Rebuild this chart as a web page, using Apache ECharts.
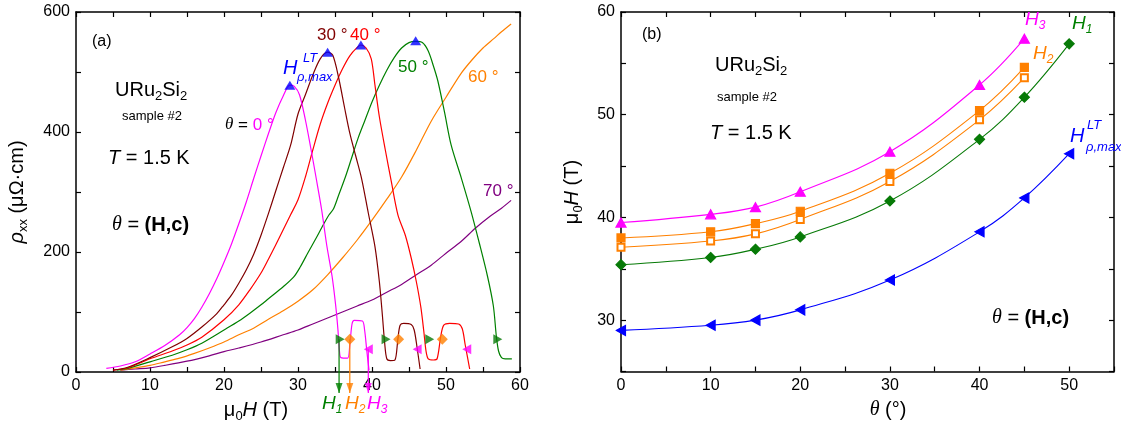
<!DOCTYPE html>
<html lang="en">
<head>
  <meta charset="UTF-8">
  <title>URu2Si2 rho_xx and transition fields</title>
  <script src="https://cdn.jsdelivr.net/npm/echarts@6/dist/echarts.min.js"></script>
  <style>
    * { margin: 0; padding: 0; }
    body { background: #fff; }
    #main { width: 1121px; height: 430px; }
  </style>
</head>
<body>
  <div id="main"></div>
  <script>
    // ---- panel (a): rho_xx vs mu0H, [field (T), rho (uOhm.cm)] per angle ----
    var rho0 = [[4.1,6],[6,10],[8,17],[10,30],[12,44],[14,62],[15,74],[16,89],[17,108],[18,130],[19,155],[20,183],[21,213],[22,247],[23,283],[24,322],[25,360],[26,397],[27,432],[28,460],[28.9,478],[29.5,476],[30.2,462],[31,420],[31.7,375],[32.5,320],[33.2,270],[33.9,210],[34.6,160],[35.1,110],[35.4,70],[35.6,35],[35.8,24],[36.7,23],[37.0,45],[37.3,80],[37.6,86],[38.7,85],[39.0,70],[39.3,35],[39.6,3]];
    var rho30 = [[5,3],[7,8],[10,24],[13,42],[15,56],[17,75],[19,97],[20,112],[21,128],[22,148],[23,170],[24,196],[25,228],[26,264],[27,302],[28,340],[29,378],[30,430],[31,462],[32,495],[33,522],[34,533],[34.7,528],[35.5,490],[36.3,440],[37.0,398],[37.8,360],[38.6,322],[39.5,265],[40.4,209],[41.0,150],[41.4,95],[41.7,50],[42.0,22],[42.5,19],[43.1,20],[43.5,55],[43.8,78],[44.3,81],[45.3,79],[45.7,70],[46.1,40],[46.5,5]];
    var rho40 = [[5,3],[7,7],[10,22],[13,35],[15,45],[17,58],[20,87],[22,112],[23.5,137],[25,165],[26,188],[27,212],[28,237],[29,262],[30,287],[31,325],[32,370],[33,413],[34,448],[35,478],[36,505],[37,527],[38,541],[38.5,545],[39.2,540],[39.9,522],[40.4,478],[41.0,425],[41.8,370],[42.6,318],[43.5,262],[44.5,228],[45.3,190],[46.0,150],[46.6,108],[47.0,68],[47.3,35],[47.6,22],[48.3,20],[48.8,22],[49.3,60],[49.7,78],[50.5,81],[51.7,80],[52.2,72],[52.6,45],[53.2,5]];
    var rho50 = [[5.5,3],[7,6],[10,17],[13,28],[15,37],[17,48],[20,70],[22,85],[23.5,98],[25,112],[26,122],[28,142],[29.4,158],[30.3,175],[31.4,200],[32.4,222],[33.4,245],[34.2,262],[34.8,272],[35.5,295],[36.4,325],[37.2,355],[38.1,389],[39,418],[40,450],[41,478],[42,503],[43,524],[44,540],[45,549],[45.9,551],[46.8,549],[47.6,535],[48.3,510],[48.9,485],[49.8,433],[50.7,378],[52.1,322],[53.4,267],[54.5,215],[55.6,160],[56.4,110],[56.8,60],[57.1,35],[57.5,24],[58.0,22],[58.9,22]];
    var rho60 = [[6,3],[8,7],[10,11],[12,17],[14,23],[16,31],[18,40],[20,50],[22,62],[24,73],[26,88],[28,102],[30,118],[32,137],[34,162],[36,190],[38,220],[40,253],[42,288],[44,325],[46,370],[48,418],[50,458],[52,497],[53.5,520],[55,540],[56.5,556],[57.5,567],[58.8,580]];
    var rho70 = [[6,3],[8,5],[10,7],[12,11],[15,18],[18,27],[20,34],[22,40],[25,50],[28,62],[30,70],[32,80],[34,90],[36,100],[38,110],[40,120],[42,133],[44,146],[46,162],[48,178],[50,198],[52,217],[54,240],[56,260],[57.5,273],[58.8,286]];

    // resistivity maxima (blue triangles)
    var peakField = [28.9, 34.0, 38.5, 45.9];
    var peakRho = [478, 533, 545, 552];
    // H1 / H2 / H3 marks on the steps
    var h1Field = [35.7, 41.9, 47.8, 57.0];
    var h2Field = [37.0, 43.6, 49.5];
    var h3Field = [39.5, 46.1, 52.8];
    var h12Rho = 54.5;
    var h3Rho = 38;
    // arrows below the axis for theta = 0
    var arrowField = [35.55, 37.0, 39.5];
    var arrowFrom = [54.5, 54.5, 38];
    var arrowTip = -35;

    // ---- panel (b): fields vs theta ----
    var theta = [0, 10, 15, 20, 30, 40, 45, 50];
    var h3 = [39.5, 40.3, 41.0, 42.5, 46.4, 52.9, 57.4];
    var h2Full = [38.0, 38.6, 39.4, 40.6, 44.3, 50.4, 54.6];
    var h2Open = [37.1, 37.7, 38.4, 39.8, 43.5, 49.5, 53.6];
    var h1 = [35.4, 36.1, 36.9, 38.1, 41.6, 47.6, 51.7, 56.9];
    var hMax = [29.0, 29.5, 30.0, 31.0, 33.9, 38.6, 41.9, 46.2];

    var FONT = 'Liberation Sans';
    var SERIF = 'Liberation Serif';
    var MAGENTA = '#ff00ff', BROWN = '#800000', RED = '#ff0000', GREEN = '#008000',
        ORANGE = '#ff8000', PURPLE = '#800080', BLUE = '#0000ff', DKGREEN = '#077a07';

    function pairs(xs, ys) {
      return ys.map(function (y, i) { return [xs[i], y]; });
    }

    // rich text styles: n normal, i italic, g greek italic, b bold, s/si subscript
    function rich(size, color) {
      var lh = Math.round(size * 1.25);
      var ss = Math.round(size * 0.65);
      function st(o) {
        return Object.assign({ fontFamily: FONT, fontSize: size, lineHeight: lh, fill: color, color: color, verticalAlign: 'middle' }, o);
      }
      return {
        n: st({}),
        i: st({ fontStyle: 'italic' }),
        g: st({ fontStyle: 'italic', fontFamily: SERIF }),
        b: st({ fontWeight: 'bold' }),
        s: st({ fontSize: ss, lineHeight: ss, verticalAlign: 'bottom' }),
        si: st({ fontSize: ss, lineHeight: ss, verticalAlign: 'bottom', fontStyle: 'italic' }),
        p: st({ fill: MAGENTA, color: MAGENTA })
      };
    }

    function txt(x, y, text, size, color, align, rot) {
      return {
        type: 'text', x: x, y: y, rotation: rot || 0, silent: true, z: 100,
        style: {
          text: text, rich: rich(size, color), fill: color,
          font: size + 'px "' + FONT + '"',
          textAlign: align || 'left', textVerticalAlign: 'middle'
        }
      };
    }

    function axis(grid, pos, min, max, step, labelStep, showLabel) {
      return {
        type: 'value', gridIndex: grid, position: pos, min: min, max: max, interval: step,
        axisLine: { show: true, onZero: false, lineStyle: { color: '#000', width: 1.5 } },
        axisTick: { show: true, inside: true, length: 5, lineStyle: { color: '#000', width: 1.2 } },
        splitLine: { show: false },
        axisLabel: {
          show: showLabel, color: '#000', fontFamily: FONT, fontSize: 16, margin: 6,
          formatter: function (v) { return v % labelStep === 0 ? String(v) : ''; }
        }
      };
    }

    function curve(data, color) {
      return {
        type: 'line', xAxisIndex: 0, yAxisIndex: 0, data: data, symbol: 'none',
        smooth: 0.3, lineStyle: { color: color, width: 1.2 }, silent: true, z: 2
      };
    }

    function marks(data, symbol, size, color, rotate) {
      return {
        type: 'scatter', xAxisIndex: 0, yAxisIndex: 0, data: data, symbol: symbol,
        symbolSize: size, symbolRotate: rotate || 0, clip: false,
        itemStyle: { color: color }, silent: true, z: 5
      };
    }

    function fit(ys, color, symbol, size, rotate) {
      return {
        type: 'line', xAxisIndex: 2, yAxisIndex: 2, data: pairs(theta, ys),
        smooth: 0.4, symbol: symbol, symbolSize: size, symbolRotate: rotate || 0,
        showSymbol: true, lineStyle: { color: color, width: 1.1 },
        itemStyle: { color: color, borderColor: color, borderWidth: 1.2 }, silent: true, z: 3
      };
    }

    var series = [
      curve(rho70, PURPLE),
      curve(rho60, ORANGE),
      curve(rho50, GREEN),
      curve(rho40, RED),
      curve(rho30, BROWN),
      curve(rho0, MAGENTA)
    ];

    // arrows from the theta = 0 marks down below the axis
    var arrowColors = [GREEN, ORANGE, MAGENTA];
    arrowField.forEach(function (x, i) {
      series.push({
        type: 'line', xAxisIndex: 0, yAxisIndex: 0, symbol: 'none', clip: false, silent: true, z: 4,
        data: [[x, arrowFrom[i]], [x, arrowTip]],
        lineStyle: { color: arrowColors[i], width: 1.2 }
      });
    });
    series.push({
      type: 'scatter', xAxisIndex: 0, yAxisIndex: 0, clip: false, silent: true, z: 4,
      symbol: 'triangle', symbolRotate: 180, symbolSize: [7, 10], symbolOffset: [0, -5],
      data: arrowField.map(function (x, i) {
        return { value: [x, arrowTip], itemStyle: { color: arrowColors[i] } };
      })
    });

    series.push(
      marks(pairs(peakField, peakRho), 'triangle', [11, 9], BLUE),
      marks(h1Field.map(function (x) { return [x, h12Rho]; }), 'triangle', [10, 9], DKGREEN, -90),
      marks(h2Field.map(function (x) { return [x, h12Rho]; }), 'diamond', 11, ORANGE),
      marks(h3Field.map(function (x) { return [x, h3Rho]; }), 'triangle', [10, 9], MAGENTA, 90)
    );

    series.push(
      fit(hMax, BLUE, 'triangle', [10, 9], 90),
      fit(h1, DKGREEN, 'diamond', 10),
      fit(h2Open, ORANGE, 'emptyRect', 7),
      fit(h2Full, ORANGE, 'rect', 8),
      fit(h3, MAGENTA, 'triangle', [10, 9])
    );

    var texts = [
      // panel (a)
      txt(92, 42, '(a)', 16, '#000'),
      txt(115, 90, '{n|URu}{s|2}{n|Si}{s|2}', 20, '#000'),
      txt(122, 116, 'sample #2', 13, '#000'),
      txt(108, 158, '{i|T}{n| = 1.5 K}', 20, '#000'),
      txt(112, 225, '{g|θ}{n| = }{b|(H,c)}', 20, '#000'),
      txt(225, 125, '{g|θ}{n| = }{p|0 °}', 17, '#000'),
      txt(317, 35, '30 °', 17, BROWN),
      txt(350, 35, '40 °', 17, RED),
      txt(398, 67, '50 °', 17, GREEN),
      txt(468, 77, '60 °', 17, ORANGE),
      txt(483, 191, '70 °', 17, PURPLE),
      txt(283, 68, '{i|H}', 20, BLUE),
      txt(303, 58, '{i|LT}', 13, BLUE),
      txt(297, 77, '{i|ρ,max}', 13, BLUE),
      txt(322, 404, '{i|H}{si|1}', 19, GREEN),
      txt(345, 404, '{i|H}{si|2}', 19, ORANGE),
      txt(367, 404, '{i|H}{si|3}', 19, MAGENTA),
      txt(256, 410, '{n|μ}{s|0}{i|H}{n| (T)}', 20, '#000', 'center'),
      txt(17, 192, '{i|ρ}{s|xx}{n| (μΩ·cm)}', 20, '#000', 'center', Math.PI / 2),
      // panel (b)
      txt(642, 35, '(b)', 16, '#000'),
      txt(715, 65, '{n|URu}{s|2}{n|Si}{s|2}', 20, '#000'),
      txt(717, 97, 'sample #2', 13, '#000'),
      txt(710, 133, '{i|T}{n| = 1.5 K}', 20, '#000'),
      txt(992, 318, '{g|θ}{n| = }{b|(H,c)}', 20, '#000'),
      txt(1025, 20, '{i|H}{si|3}', 19, MAGENTA),
      txt(1033, 54, '{i|H}{si|2}', 19, ORANGE),
      txt(1072, 24, '{i|H}{si|1}', 19, GREEN),
      txt(1070, 136, '{i|H}', 20, BLUE),
      txt(1087, 125, '{i|LT}', 13, BLUE),
      txt(1086, 147, '{i|ρ,max}', 13, BLUE),
      txt(888, 410, '{g|θ}{n| (°)}', 20, '#000', 'center'),
      txt(572, 192, '{n|μ}{s|0}{i|H}{n| (T)}', 20, '#000', 'center', Math.PI / 2)
    ];

    var chart = echarts.init(document.getElementById('main'), null, { renderer: 'canvas' });
    chart.setOption({
      backgroundColor: '#fff',
      animation: false,
      grid: [
        { left: 76, top: 12, width: 444, height: 360 },
        { left: 621, top: 12, width: 493, height: 359.5 }
      ],
      xAxis: [
        axis(0, 'bottom', 0, 60, 5, 10, true),
        axis(0, 'top', 0, 60, 5, 10, false),
        axis(1, 'bottom', 0, 55, 5, 10, true),
        axis(1, 'top', 0, 55, 5, 10, false)
      ],
      yAxis: [
        axis(0, 'left', 0, 600, 100, 200, true),
        axis(0, 'right', 0, 600, 100, 200, false),
        axis(1, 'left', 25, 60, 5, 10, true),
        axis(1, 'right', 25, 60, 5, 10, false)
      ],
      series: series,
      graphic: texts
    });
  </script>
</body>
</html>
